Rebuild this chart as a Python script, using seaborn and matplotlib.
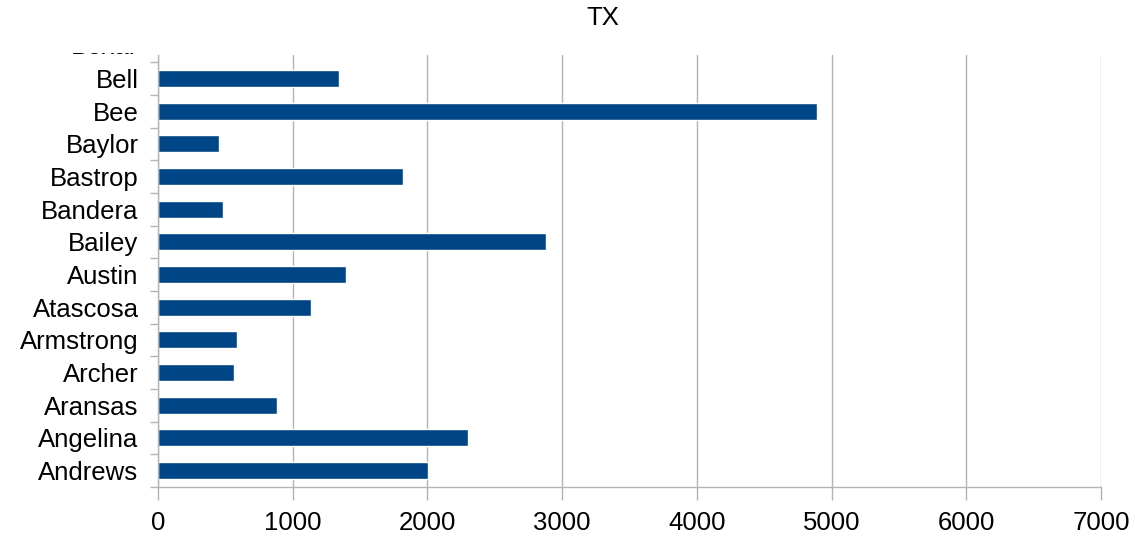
import matplotlib
matplotlib.use("Agg")
import matplotlib.pyplot as plt
import seaborn as sns
import pandas as pd
from matplotlib.transforms import Bbox, TransformedBbox, blended_transform_factory
from matplotlib.ticker import FixedLocator

# Data (top to bottom)
counties = ["Bell", "Bee", "Baylor", "Bastrop", "Bandera", "Bailey", "Austin",
            "Atascosa", "Armstrong", "Archer", "Aransas", "Angelina", "Andrews"]
values = [1344, 4890, 453, 1819, 483, 2880, 1395, 1136, 586, 564, 883, 2301, 2004]
clipped_label = "Bexar"
title = "TX"
xticks = [0, 1000, 2000, 3000, 4000, 5000, 6000, 7000]

df = pd.DataFrame({"county": counties, "value": values})

sns.set_theme(style="white")
plt.rcParams["font.family"] = ["Liberation Sans", "DejaVu Sans"]

FS = 18.5

fig = plt.figure(figsize=(11.35, 5.4), dpi=100)
ax = fig.add_axes([158 / 1135, 53 / 540, (1101 - 158) / 1135, (487 - 55) / 540])

sns.barplot(data=df, x="value", y="county", order=counties, orient="h",
            color="#004586", saturation=1, width=0.52, ax=ax)

grey = "#b3b3b3"
ax.set_xlim(0, 7000)
ax.set_ylim(len(counties) - 0.5, -0.72)
ax.set_xticks(xticks)
ax.set_xticklabels([str(t) for t in xticks])
ax.xaxis.grid(True, color=grey, linewidth=1)
ax.yaxis.grid(False)
ax.set_axisbelow(True)
ax.set_xlabel("")
ax.set_ylabel("")

for s in ["top", "right"]:
    ax.spines[s].set_visible(False)
for s in ["left", "bottom"]:
    ax.spines[s].set_color(grey)
    ax.spines[s].set_linewidth(1)

ax.tick_params(axis="x", which="major", length=9, width=1, color=grey,
               pad=8, labelsize=FS, labelcolor="black", bottom=True)
ax.tick_params(axis="y", which="major", length=0, pad=14, labelsize=FS,
               labelcolor="black", left=True)
ax.yaxis.set_minor_locator(FixedLocator([i + 0.5 for i in range(-1, len(counties))]))
ax.tick_params(axis="y", which="minor", length=6, width=1, color=grey, left=True)

# partially visible label above the plot area
trans = blended_transform_factory(ax.transAxes, ax.transData)
t = ax.text(-0.0215, -0.97, clipped_label, transform=trans, ha="right", va="center",
            fontsize=FS, color="black")
t.set_clip_on(True)
t.set_clip_path(None)
t.set_clip_box(TransformedBbox(Bbox([[-0.2, 0.0], [1.0, 1.004]]), ax.transAxes))

fig.text(603 / 1135, 1 - 18 / 540, title, ha="center", va="center",
         fontsize=FS, color="black")

fig.savefig("out.png", dpi=100)
